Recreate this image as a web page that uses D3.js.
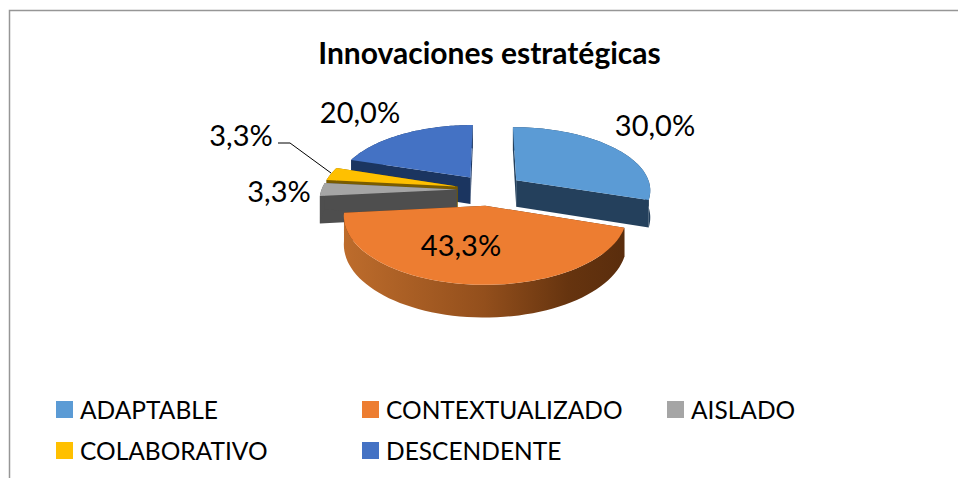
<!DOCTYPE html>
<html><head><meta charset="utf-8">
<script src="https://cdn.jsdelivr.net/npm/d3@7"></script>
<style>html,body{margin:0;padding:0;background:#fff}svg{display:block}text{font-family:Lato,Carlito,sans-serif;fill:#000}</style>
</head><body><div id="c"></div>
<script>
const titleText = "Innovaciones estratégicas";
const categories = ["ADAPTABLE","CONTEXTUALIZADO","AISLADO","COLABORATIVO","DESCENDENTE"];
const values = [30.0,43.3,3.3,3.3,20.0];
const labels = ["30,0%","43,3%","3,3%","3,3%","20,0%"];
const explode = [0.254,0.25,0.24,0.24,0.24];
const topColors = ["#5B9BD5","#ED7D31","#A5A5A5","#FFC000","#4472C4"];
const sideColors = ["#24405C","#5E300F","#4E4E4E","#7A5C00","#1B3560"];
const labelPos = [[655,125],[461,245],[279,191],[241,135],[360,112]];
const legendPos = [[57,410],[363,410],[668,410],[57,450.5],[363,450.5]];
const W=959,H=478;
const svg=d3.select("#c").append("svg").attr("width",W).attr("height",H);
const cx=489,cy=189.5,RX=135,RY=63,K=0.14,DEPTH=27;
const pie=d3.pie().sort(null).value(d=>d)(values);
function proj(e,bis,a,z,r=1){
  const X=e*Math.sin(bis)+r*Math.sin(a), Y=-e*Math.cos(bis)-r*Math.cos(a);
  const w=1-K*Y;
  return [cx+RX*X/w, cy+(RY*Y+z)/w];
}
const defs=svg.append("defs");
const g=defs.append("linearGradient").attr("id","og").attr("x1","0").attr("x2","1").attr("y1","0").attr("y2","0");
[[0,"#BD6C2C"],[0.5,"#934F1C"],[0.8,"#66340F"],[1,"#5A2D0D"]].forEach(s=>g.append("stop").attr("offset",s[0]).attr("stop-color",s[1]));
const line=d3.line();
function arcPts(e,bis,a0,a1,z){const n=60,out=[];for(let i=0;i<=n;i++){out.push(proj(e,bis,a0+(a1-a0)*i/n,z));}return out;}
const order=[4,3,2,0,1];
order.forEach(i=>{
  const d=pie[i],a0=d.startAngle,a1=d.endAngle,bis=(a0+a1)/2,e=explode[i];
  const G=svg.append("g");
  const apexT=proj(e,bis,0,0,0),apexB=proj(e,bis,0,DEPTH,0);
  const rimT=arcPts(e,bis,a0,a1,0),rimB=arcPts(e,bis,a0,a1,DEPTH);
  G.append("path").attr("d",line([apexT,rimT[0],rimB[0],apexB])+"Z").attr("fill",sideColors[i]);
  G.append("path").attr("d",line([apexT,rimT[60],rimB[60],apexB])+"Z").attr("fill",sideColors[i]);
  G.append("path").attr("d",line(rimT.concat(rimB.slice().reverse()))+"Z").attr("fill",i===1?"url(#og)":sideColors[i]);
  G.append("path").attr("d",line([apexT].concat(rimT))+"Z").attr("fill",topColors[i]);
});
svg.append("path").attr("d","M9.5,478V10.5H958").attr("fill","none").attr("stroke","#969696").attr("stroke-width",1.5);
svg.append("text").attr("x",489.5).attr("y",64).attr("text-anchor","middle").attr("font-size",30).attr("font-weight",700).text(titleText);
labels.forEach((t,i)=>svg.append("text").attr("x",labelPos[i][0]).attr("y",labelPos[i][1]+11).attr("text-anchor","middle").attr("font-size",29).text(t));
svg.append("path").attr("d","M278,143H290L331,173").attr("fill","none").attr("stroke","#000").attr("stroke-width",1);
categories.forEach((c,i)=>{
  const [x,y]=legendPos[i];
  svg.append("rect").attr("x",x-1).attr("y",Math.round(y-9)).attr("width",17).attr("height",17).attr("fill",topColors[i]);
  svg.append("text").attr("x",x+23).attr("y",y+9).attr("font-size",24.5).text(c);
});
</script></body></html>
